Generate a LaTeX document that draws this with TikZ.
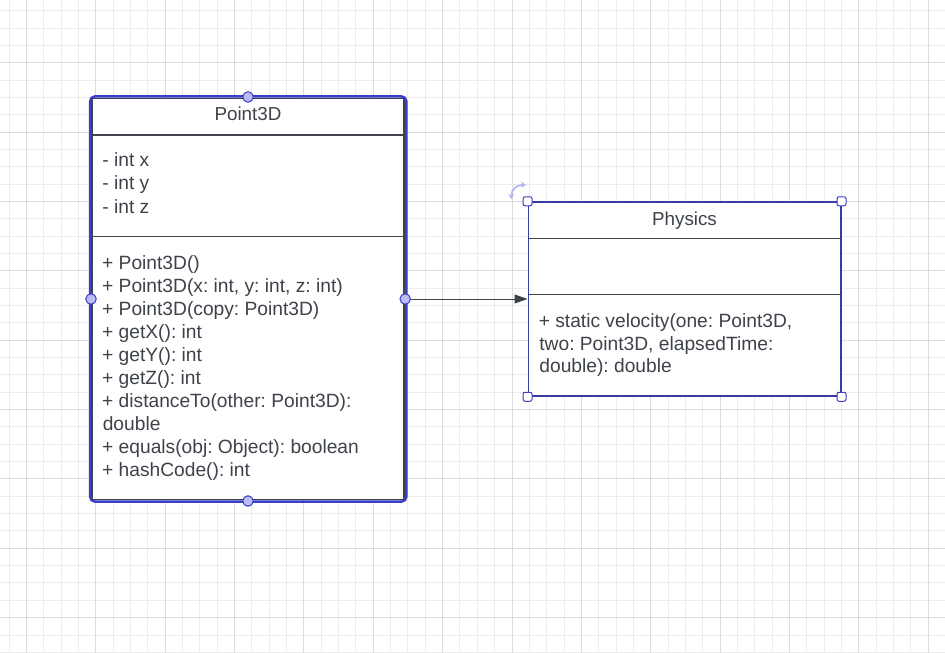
\documentclass[tikz,border=0pt]{standalone}
\usepackage{fontspec}
\setmainfont{Liberation Sans}
\usetikzlibrary{arrows.meta}
\definecolor{gridminor}{RGB}{236,236,236}
\definecolor{gridmajor}{RGB}{220,220,220}
\definecolor{selblue}{RGB}{58,62,196}
\definecolor{physblue}{RGB}{56,60,160}
\definecolor{handlefill}{RGB}{186,188,246}
\definecolor{ink}{RGB}{62,66,74}
\definecolor{rotblue}{RGB}{178,180,242}
\frenchspacing
\begin{document}
\begin{tikzpicture}[x=1pt,y=-1pt,
  txt/.style={anchor=base west, inner sep=0pt, text=ink, font=\fontsize{19.2}{23}\selectfont},
  ttl/.style={anchor=base, inner sep=0pt, text=ink, font=\fontsize{18.8}{23}\selectfont},
  classbox/.style={draw=ink, line width=1.5pt, fill=white, inner sep=0pt},
  divider/.style={draw=ink, line width=1.5pt},
  roundhandle/.style={circle, draw=selblue, fill=handlefill, line width=1pt, minimum size=10.5pt, inner sep=0pt},
  cornerhandle/.style={rectangle, rounded corners=2pt, draw=selblue, fill=white, line width=1pt, minimum size=9pt, inner sep=0pt}]
\useasboundingbox (0,0) rectangle (945,653);
\fill[white] (0,0) rectangle (945,653);
% grid
\foreach \k in {-1,...,53} \draw[gridminor, line width=1pt] ({round(26+17.34*\k)+0.5},0) -- ({round(26+17.34*\k)+0.5},653);
\foreach \k in {-3,...,34} \draw[gridminor, line width=1pt] (0,{round(62.3+17.34*\k)+0.5}) -- (945,{round(62.3+17.34*\k)+0.5});
\foreach \k in {0,...,13} \draw[gridmajor, line width=1pt] ({round(26+69.36*\k)+0.5},0) -- ({round(26+69.36*\k)+0.5},653);
\foreach \k in {0,...,8} \draw[gridmajor, line width=1pt] (0,{round(62.3+69.36*\k)+0.5}) -- (945,{round(62.3+69.36*\k)+0.5});

% Point3D class
\node[classbox, minimum width=312pt, minimum height=401pt] (p3) at (248.2,299) {};
\draw[selblue, line width=2.5pt, rounded corners=5pt]
  ([xshift=-1.4pt,yshift=1.4pt]p3.north west) rectangle ([xshift=1.4pt,yshift=-1.4pt]p3.south east);
\draw[divider] (92,135) -- (404.5,135);
\draw[divider] (92,236.7) -- (404.5,236.7);
\node[ttl] (p3title) at (248,120.7) {Point3D};
\node[txt] (a1) at (102.2,166.5) {- int x};
\node[txt] (a2) at (102.2,189.8) {- int y};
\node[txt] (a3) at (102.2,213) {- int z};
\node[txt] (m1) at (102,269.3) {+ Point3D()};
\node[txt] (m2) at (102,292.3) {+ Point3D(x: int, y: int, z: int)};
\node[txt] (m3) at (102,315.4) {+ Point3D(copy: Point3D)};
\node[txt] (m4) at (102,338.4) {+ getX(): int};
\node[txt] (m5) at (102,361.4) {+ getY(): int};
\node[txt] (m6) at (102,384.5) {+ getZ(): int};
\node[txt] (m7) at (102,407.5) {+ distanceTo(other: Point3D):};
\node[txt] (m8) at (102.6,430.5) {double};
\node[txt] (m9) at (102,453.5) {+ equals(obj: Object): boolean};
\node[txt] (m10) at (102,476.6) {+ hashCode(): int};
\node[roundhandle] (hT) at (248,97) {};
\node[roundhandle] (hB) at (248,501) {};
\node[roundhandle] (hL) at (91,299) {};
\node[roundhandle] (hR) at (405.2,299) {};

% Physics class
\node[classbox, draw=physblue, minimum width=312.5pt, minimum height=194pt] (phys) at (684.5,299) {};
\draw[divider] (528.5,238.5) -- (840.5,238.5);
\draw[divider] (528.5,294.5) -- (840.5,294.5);
\node[ttl] (phtitle) at (684.5,225) {Physics};
\node[txt] (pm1) at (538.6,327.3) {+ static velocity(one: Point3D,};
\node[txt] (pm2) at (539.2,350) {two: Point3D, elapsedTime:};
\node[txt] (pm3) at (539.2,372.7) {double): double};
\node[cornerhandle] (c1) at (phys.north west) {};
\node[cornerhandle] (c2) at (phys.north east) {};
\node[cornerhandle] (c3) at (phys.south west) {};
\node[cornerhandle] (c4) at (phys.south east) {};
\draw[rotblue, line width=1.6pt, {Stealth[length=5pt,width=6pt]}-{Stealth[length=5pt,width=6pt]}]
  (511.5,199) .. controls (511,189) and (518,184.5) .. (526,185);

% association arrow
\draw[ink, line width=1pt, -{Triangle[length=13pt,width=9pt]}] (hR) -- (phys.west);
\end{tikzpicture}
\end{document}
